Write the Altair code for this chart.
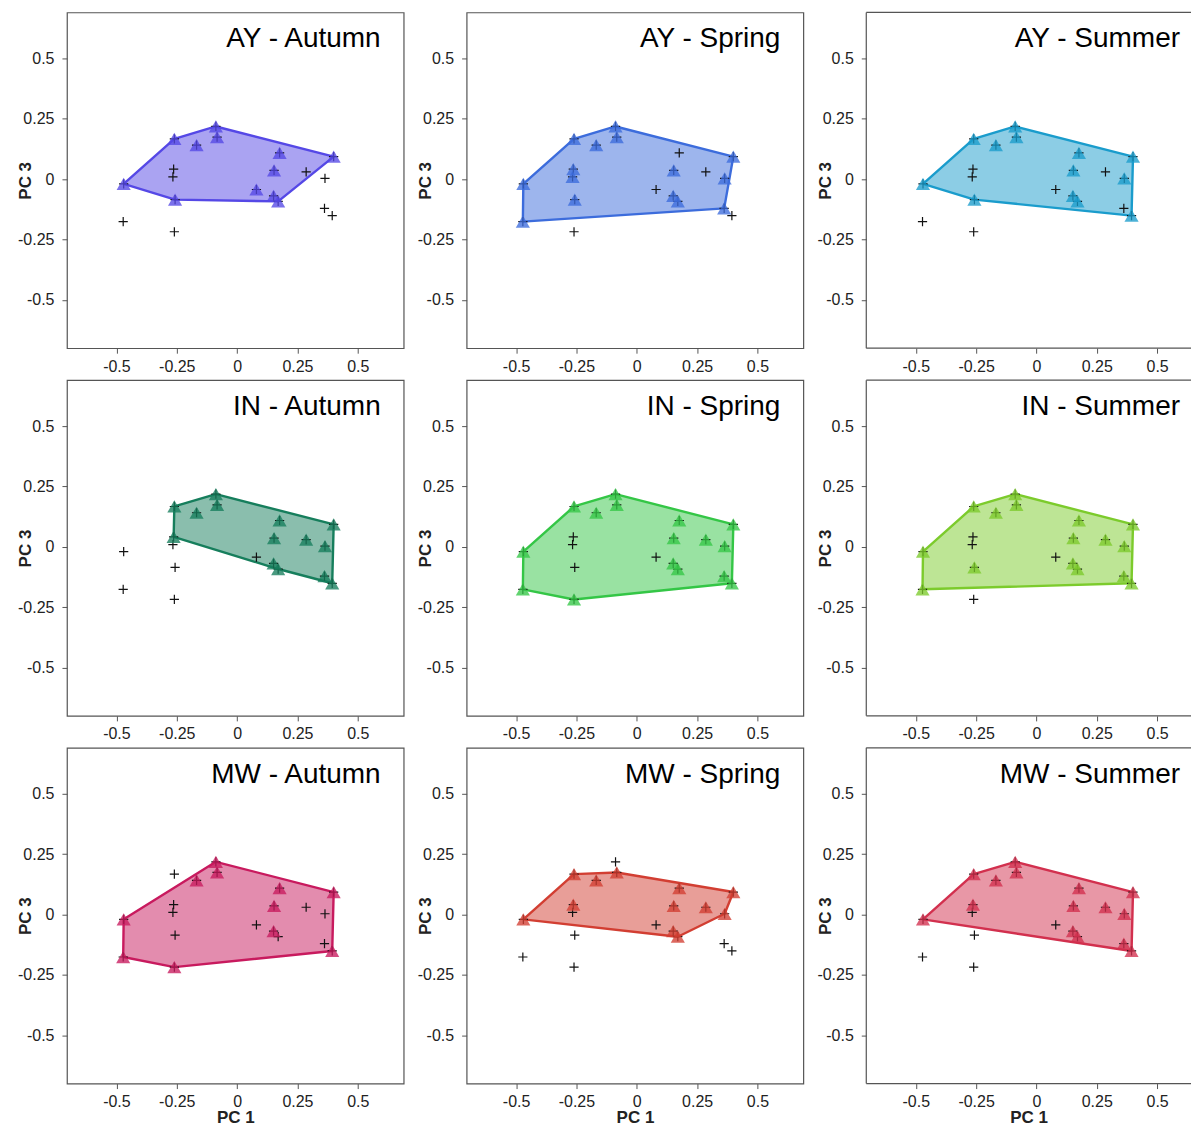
import altair as alt
import pandas as pd

# ---- data -------------------------------------------------------------
species = list("ABCDEFGHIJKLMNOPQRST")
pc1 = [-0.470, -0.472, -0.260, -0.088, -0.168, -0.083, -0.263, -0.266, -0.257, -0.260,
       0.176, 0.153, 0.286, 0.364, 0.080, 0.151, 0.170, 0.362, 0.394, 0.400]
pc3 = [-0.020, -0.176, 0.167, 0.218, 0.141, 0.174, 0.041, 0.009, -0.085, -0.218,
       0.109, 0.036, 0.030, 0.003, -0.043, -0.069, -0.092, -0.121, -0.151, 0.093]

panel_titles = ["AY - Autumn", "AY - Spring", "AY - Summer",
                "IN - Autumn", "IN - Spring", "IN - Summer",
                "MW - Autumn", "MW - Spring", "MW - Summer"]
panel_colors = ["#5548e6", "#3c6cdc", "#1a9ccc",
                "#167e5c", "#34c646", "#7ccb2c",
                "#c81a5e", "#d23e32", "#d2304e"]
present = ["ACDEFIKLOPQT", "ABCDEFGHILNPQRT", "ACDEFIKLNPQST",
           "CDEFGKLMNPQRST", "ABCDEFJKLMNPQRST", "ABCDEFIKLMNPQRST",
           "ABDEFJKLPST", "ACEFGKLMNPQT", "ACDEFGKLMNPQRST"]

ticks = [-0.5, -0.25, 0, 0.25, 0.5]
x_lo, x_hi = -0.705, 0.69
y_lo, y_hi = -0.70, 0.69

W, H = 337, 336
W_LAST = 325          # right-hand column is cut off by the page edge
FONT = "Liberation Sans"
BORDER = "#555"

all_pts = pd.DataFrame({"sp": species, "pc1": pc1, "pc3": pc3})


def hull(points):
    pts = sorted(set(points))
    if len(pts) < 3:
        return pts

    def cross(o, a, b):
        return (a[0] - o[0]) * (b[1] - o[1]) - (a[1] - o[1]) * (b[0] - o[0])

    lower, upper = [], []
    for p in pts:
        while len(lower) >= 2 and cross(lower[-2], lower[-1], p) <= 0:
            lower.pop()
        lower.append(p)
    for p in reversed(pts):
        while len(upper) >= 2 and cross(upper[-2], upper[-1], p) <= 0:
            upper.pop()
        upper.append(p)
    return lower[:-1] + upper[:-1]


def panel(i):
    color = panel_colors[i]
    last_col = (i % 3) == 2
    w = W_LAST if last_col else W
    xmax = x_lo + (x_hi - x_lo) * w / W

    sub = all_pts[all_pts["sp"].isin(list(present[i]))]
    h = hull(list(zip(sub["pc1"], sub["pc3"])))
    h = h + [h[0]]
    hdf = pd.DataFrame({"pc1": [p[0] for p in h], "pc3": [p[1] for p in h],
                        "o": list(range(len(h)))})

    bottom = i >= 6
    xax = alt.Axis(values=ticks, labelExpr="'' + datum.value", grid=False, domain=False,
                   tickSize=5, tickColor=BORDER, labelFontSize=16, labelColor="#222",
                   labelPadding=5, title="PC 1" if bottom else "",
                   titleFontSize=17, titleFontWeight="bold", titleColor="#222",
                   titlePadding=0, labelFlush=False)
    yax = alt.Axis(values=ticks, labelExpr="'' + datum.value", grid=False, domain=False,
                   tickSize=5, tickColor=BORDER, labelFontSize=16, labelColor="#222",
                   labelPadding=8, title="PC 3", titleFontSize=17, titleFontWeight="bold",
                   titleColor="#222", titleX=-32, labelFlush=False)
    xs = alt.Scale(domain=[x_lo, xmax], nice=False, zero=False)
    ys = alt.Scale(domain=[y_lo, y_hi], nice=False, zero=False)

    poly = alt.Chart(hdf).mark_line(fill=color, fillOpacity=0.5, stroke=color,
                                    strokeWidth=2.4, strokeJoin="round").encode(
        x=alt.X("pc1:Q", scale=xs, axis=xax),
        y=alt.Y("pc3:Q", scale=ys, axis=yax),
        order="o:O",
    )
    crosses = alt.Chart(all_pts).mark_point(shape="M-1,0L1,0M0,-1L0,1", filled=False,
                                            stroke="#111", strokeWidth=1.2, size=85,
                                            opacity=1).encode(
        x="pc1:Q", y="pc3:Q")
    tris = alt.Chart(sub).mark_point(shape="triangle-up", filled=True, fill=color,
                                     opacity=0.78, size=200, strokeWidth=0).encode(
        x="pc1:Q", y="pc3:Q")
    label = alt.Chart(pd.DataFrame({"t": [panel_titles[i]]})).mark_text(
        align="right", baseline="alphabetic", fontSize=28, font=FONT, color="#000"
    ).encode(text="t:N", x=alt.value(W - 23), y=alt.value(35))

    layers = [poly, crosses, tris, label]
    if last_col:
        frame = pd.DataFrame({"k": [0]})
        top = alt.Chart(frame).mark_rule(color=BORDER, strokeWidth=1.2).encode(
            x=alt.value(0), x2=alt.value(w), y=alt.value(0))
        bot = alt.Chart(frame).mark_rule(color=BORDER, strokeWidth=1.2).encode(
            x=alt.value(0), x2=alt.value(w), y=alt.value(H))
        left = alt.Chart(frame).mark_rule(color=BORDER, strokeWidth=1.2).encode(
            x=alt.value(0), y=alt.value(0), y2=alt.value(H))
        layers += [top, bot, left]
        return alt.layer(*layers).properties(
            width=w, height=H, view=alt.ViewBackground(stroke="transparent"))
    return alt.layer(*layers).properties(width=w, height=H)


chart = alt.concat(*[panel(i) for i in range(9)], columns=3,
                   spacing={"column": 63, "row": 32}, bounds="flush").properties(
    padding={"left": 8, "top": 2, "right": 0, "bottom": 0}
).configure(font=FONT).configure_view(stroke=BORDER, strokeWidth=1.2)

chart.save("out.html", embed_options={"renderer": "svg", "actions": False})
